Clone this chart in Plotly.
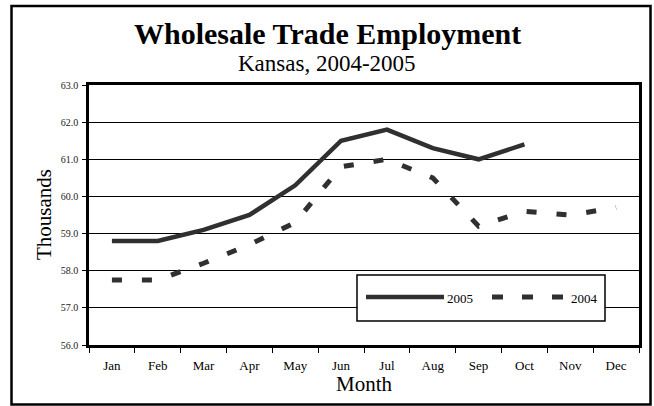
import plotly.graph_objects as go

months = ["Jan", "Feb", "Mar", "Apr", "May", "Jun", "Jul", "Aug", "Sep", "Oct", "Nov", "Dec"]
emp_2005 = [58.8, 58.8, 59.1, 59.5, 60.3, 61.5, 61.8, 61.3, 61.0, 61.4, None, None]
emp_2004 = [57.75, 57.75, 58.2, 58.7, 59.3, 60.8, 61.0, 60.5, 59.2, 59.6, 59.5, 59.7]
y_ticks = [56, 57, 58, 59, 60, 61, 62, 63]

FONT = "Liberation Serif, Times New Roman, serif"
LINE_COLOR = "#303030"

fig = go.Figure()
fig.add_trace(go.Scatter(x=months, y=emp_2005, mode="lines", name="2005",
                         line=dict(color=LINE_COLOR, width=4.5), connectgaps=False))
fig.add_trace(go.Scatter(x=months, y=emp_2004, mode="lines", name="2004",
                         line=dict(color=LINE_COLOR, width=5, dash="10px,20px")))

# plot area geometry (px) for paper conversions
L, R, T, B = 89, 639, 85, 345
W, H = R - L, B - T
px = lambda x: (x - L) / W
py = lambda y: (B - y) / H

shapes = [
    # outer frame
    dict(type="rect", xref="paper", yref="paper", x0=px(11.5), x1=px(650.5), y0=py(404.5), y1=py(6),
         line=dict(color="black", width=2.5), fillcolor="rgba(0,0,0,0)", layer="below"),
    # legend box
    dict(type="rect", xref="paper", yref="paper", x0=px(357), x1=px(605), y0=py(321), y1=py(275),
         line=dict(color="black", width=1.5), fillcolor="white", layer="above"),
    dict(type="line", xref="paper", yref="paper", x0=px(366), x1=px(444), y0=py(297), y1=py(297),
         line=dict(color=LINE_COLOR, width=4.5)),
    dict(type="line", xref="paper", yref="paper", x0=px(492), x1=px(564), y0=py(297), y1=py(297),
         line=dict(color=LINE_COLOR, width=5, dash="11px,19px")),
]

annotations = [
    dict(text="<b>Wholesale Trade Employment</b>", xref="paper", yref="paper", x=px(327), y=py(33),
         showarrow=False, font=dict(family=FONT, size=30, color="black"), xanchor="center", yanchor="middle"),
    dict(text="Kansas, 2004-2005", xref="paper", yref="paper", x=px(327), y=py(63),
         showarrow=False, font=dict(family=FONT, size=23, color="black"), xanchor="center", yanchor="middle"),
    dict(text="Month", xref="paper", yref="paper", x=px(364), y=py(384),
         showarrow=False, font=dict(family=FONT, size=21, color="black"), xanchor="center", yanchor="middle"),
    dict(text="Thousands", xref="paper", yref="paper", x=px(44), y=py(215), textangle=-90,
         showarrow=False, font=dict(family=FONT, size=21, color="black"), xanchor="center", yanchor="middle"),
    dict(text="2005", xref="paper", yref="paper", x=px(445), y=py(298),
         showarrow=False, font=dict(family=FONT, size=13, color="black"), xanchor="left", yanchor="middle"),
    dict(text="2004", xref="paper", yref="paper", x=px(569), y=py(298),
         showarrow=False, font=dict(family=FONT, size=13, color="black"), xanchor="left", yanchor="middle"),
]

fig.update_layout(
    width=654, height=406,
    margin=dict(l=L, r=654 - R, t=T, b=406 - B, autoexpand=False),
    paper_bgcolor="white", plot_bgcolor="white",
    showlegend=False,
    font=dict(family=FONT, color="black"),
    shapes=shapes,
    annotations=annotations,
    xaxis=dict(
        type="category", categoryorder="array", categoryarray=months,
        range=[-0.5, 11.5], tickson="boundaries", ticks="outside", ticklen=5, tickwidth=1, tickcolor="black",
        showgrid=False, showline=True, linecolor="black", linewidth=2.5, mirror=True,
        tickfont=dict(family=FONT, size=13, color="black"), ticklabelstandoff=7, zeroline=False,
    ),
    yaxis=dict(
        range=[56, 63], tickvals=y_ticks, tickformat=".1f",
        ticks="outside", ticklen=4, tickwidth=1, tickcolor="black",
        showgrid=True, gridcolor="black", gridwidth=1,
        showline=True, linecolor="black", linewidth=2.5, mirror=True, zeroline=False,
        tickfont=dict(family=FONT, size=10, color="#222"), ticklabelstandoff=2,
    ),
)

fig.write_html("out.html", config={"displayModeBar": False},
               post_script="document.body.style.margin='0';document.body.style.overflow='hidden';")
